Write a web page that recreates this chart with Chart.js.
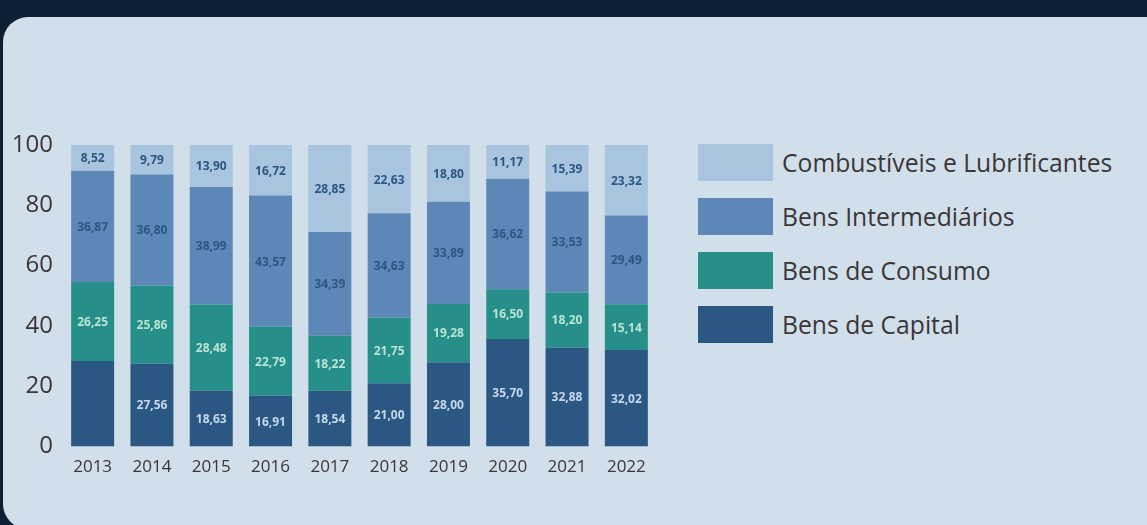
<!DOCTYPE html>
<html lang="pt-BR">
<head>
<meta charset="utf-8">
<script src="https://cdn.jsdelivr.net/npm/chart.js@4"></script>
<style>
    html, body { margin: 0; padding: 0; }
    body { width: 1147px; height: 525px; background: #0c1f35; position: relative; overflow: hidden; font-family: "Open Sans", sans-serif; }
    #card { position: absolute; left: 3px; top: 17px; width: 1170px; height: 512px; background: #d1dfeb; border-radius: 25px; }
    #wrap { position: absolute; left: 0; top: 0; width: 680px; height: 525px; }
    #legenda { position: absolute; left: 698px; top: 144px; }
    .item { display: flex; align-items: center; height: 37px; margin-bottom: 17px; }
    .box { width: 75px; height: 37px; margin-right: 9px; }
    .txt { font-size: 24.7px; color: #3a3637; white-space: nowrap; }
</style>
</head>
<body>
<div id="card"></div>
<div id="wrap"><canvas id="chart" width="680" height="525"></canvas></div>
<div id="legenda"></div>

<script>
const anos = ["2013", "2014", "2015", "2016", "2017", "2018", "2019", "2020", "2021", "2022"];

const capital = [28.36, 27.56, 18.63, 16.91, 18.54, 21.00, 28.00, 35.70, 32.88, 32.02];
const consumo = [26.25, 25.86, 28.48, 22.79, 18.22, 21.75, 19.28, 16.50, 18.20, 15.14];
const intermediarios = [36.87, 36.80, 38.99, 43.57, 34.39, 34.63, 33.89, 36.62, 33.53, 29.49];
const combustiveis = [8.52, 9.79, 13.90, 16.72, 28.85, 22.63, 18.80, 11.17, 15.39, 23.32];

const nomes = ["Bens de Capital", "Bens de Consumo", "Bens Intermediários", "Combustíveis e Lubrificantes"];
const cores = ["#2a5883", "#268f89", "#5d87b6", "#a9c4de"];
const corRotulo = ["#c6d7ea", "#b9e4d3", "#2c5785", "#2c5785"];

const yTicks = [0, 20, 40, 60, 80, 100];

// rotulo que nao aparece no original (2013, capital)
const semRotulo = [[0, 0]];

const series = [capital, consumo, intermediarios, combustiveis];

function fmt(v) {
    return v.toFixed(2).replace(".", ",");
}

const rotulos = {
    id: "rotulos",
    afterDatasetsDraw(chart) {
        const ctx = chart.ctx;
        ctx.save();
        ctx.font = "bold 12px 'Open Sans'";
        ctx.textAlign = "center";
        ctx.textBaseline = "middle";
        chart.data.datasets.forEach((ds, d) => {
            const meta = chart.getDatasetMeta(d);
            meta.data.forEach((bar, i) => {
                if (semRotulo.some(s => s[0] === d && s[1] === i)) return;
                ctx.fillStyle = corRotulo[d];
                ctx.fillText(fmt(ds.data[i]), bar.x, (bar.y + bar.base) / 2 + 1);
            });
        });
        ctx.restore();
    }
};

function legenda() {
    const el = document.getElementById("legenda");
    for (let d = nomes.length - 1; d >= 0; d--) {
        el.innerHTML += `
        <div class="item">
            <div class="box" style="background:${cores[d]}"></div>
            <div class="txt">${nomes[d]}</div>
        </div>`;
    }
}

function draw() {
    const ctx = document.getElementById("chart").getContext("2d");
    new Chart(ctx, {
        type: "bar",
        data: {
            labels: anos,
            datasets: series.map((s, d) => ({
                label: nomes[d],
                data: s,
                backgroundColor: cores[d],
                borderWidth: 0,
                categoryPercentage: 1,
                barPercentage: 0.725
            }))
        },
        options: {
            responsive: false,
            animation: false,
            layout: { padding: { left: 0, right: 24, top: 145, bottom: 38 } },
            plugins: {
                legend: { display: false },
                tooltip: { enabled: false }
            },
            scales: {
                x: {
                    stacked: true,
                    grid: { display: false, drawTicks: false },
                    border: { display: false },
                    ticks: { color: "#3a3637", font: { family: "Open Sans", size: 17 }, padding: 10 }
                },
                y: {
                    stacked: true,
                    min: 0,
                    max: 100,
                    afterBuildTicks: (s) => { s.ticks = yTicks.map(v => ({ value: v })); },
                    afterFit: (s) => { s.width = 63; },
                    grid: { display: false, drawTicks: false },
                    border: { display: false },
                    ticks: { color: "#3a3637", font: { family: "Open Sans", size: 24 }, padding: 10 }
                }
            }
        },
        plugins: [rotulos]
    });
}

legenda();
draw();
</script>
</body>
</html>
